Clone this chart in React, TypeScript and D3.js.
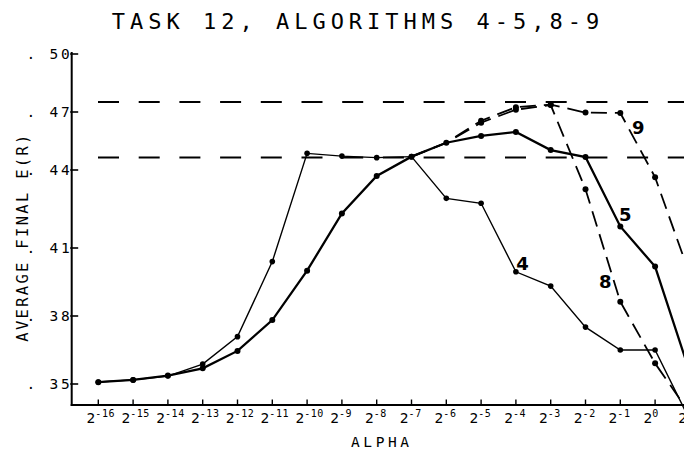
import React from "react";
import * as d3 from "d3";

// ---- data ----
const exponents = [-16, -15, -14, -13, -12, -11, -10, -9, -8, -7, -6, -5, -4, -3, -2, -1, 0, 1];
const alg4 = [0.3509, 0.3518, 0.3535, 0.3588, 0.3709, 0.404, 0.4486, 0.4472, 0.4464, 0.4469, 0.4291, 0.4272, 0.3995, 0.3932, 0.3751, 0.365, 0.365, 0.334];
const alg5 = [0.3508, 0.3518, 0.3537, 0.3569, 0.3646, 0.3782, 0.4, 0.4233, 0.4377, 0.4469, 0.4541, 0.4576, 0.4597, 0.4503, 0.4467, 0.4183, 0.4018, 0.355];
const dashedExponents = [-7, -6, -5, -4, -3, -2, -1, 0, 1];
const alg8 = [0.4469, 0.4541, 0.4645, 0.4712, 0.4736, 0.4326, 0.3863, 0.3591, 0.337];
const alg9 = [0.4469, 0.4541, 0.4655, 0.4725, 0.4738, 0.4697, 0.4695, 0.4372, 0.3981];
const refLines = [0.4752, 0.4465];
const yTicks = [0.35, 0.38, 0.41, 0.44, 0.47, 0.5];
const yTickLabels = [". 35", ". 38", ". 41", ". 44", ". 47", ". 50"];
const title = "TASK 12, ALGORITHMS 4-5,8-9";
const yTitle = "AVERAGE FINAL E(R)";
const xTitle = "ALPHA";

const W = 684;
const H = 452;
const MONO = "'DejaVu Sans Mono', monospace";

export default function App() {
  const x = d3.scaleLinear().domain([-16, 1]).range([98.3, 689.9]);
  // the scanned axis is not evenly spaced; follow its tick positions
  const y = d3.scaleLinear().domain(yTicks).range([384, 316, 248, 170, 112, 54]);

  const axisX = 71.7;
  const axisY = 405;

  const line = d3
    .line<[number, number]>()
    .x((d) => x(d[0]))
    .y((d) => y(d[1]));

  const pts = (xs: number[], vs: number[]) => xs.map((e, i) => [e, vs[i]] as [number, number]);
  const s4 = pts(exponents, alg4);
  const s5 = pts(exponents, alg5);
  const s8 = pts(dashedExponents, alg8);
  const s9 = pts(dashedExponents, alg9);

  const dot = (p: [number, number], k: string, r = 3) => (
    <circle key={k} cx={x(p[0])} cy={y(p[1])} r={r} fill="#000" />
  );

  const labelAt = (xs: number[], vs: number[], e: number) => {
    const i = xs.indexOf(e);
    return [x(e), y(vs[i])];
  };
  const l4 = labelAt(exponents, alg4, -4);
  const l5 = labelAt(exponents, alg5, -1);
  const l8 = labelAt(dashedExponents, alg8, -1);
  const l9 = labelAt(dashedExponents, alg9, -1);

  return (
    <svg
      width={W}
      height={H}
      style={{ position: "absolute", left: 0, top: 0, background: "#fff" }}
      xmlns="http://www.w3.org/2000/svg"
    >
      <rect width={W} height={H} fill="#fff" />
      {/* title */}
      <text x={111.7} y={28.5} fontFamily={MONO} fontSize={22} letterSpacing={5.0} fill="#000">
        {title}
      </text>

      {/* reference dashed lines */}
      {refLines.map((v, i) => (
        <line
          key={"ref" + i}
          x1={98}
          x2={W + 10}
          y1={y(v)}
          y2={y(v)}
          stroke="#000"
          strokeWidth={2}
          strokeDasharray="21 19.7"
        />
      ))}

      {/* axes */}
      <line x1={axisX} x2={axisX} y1={52} y2={axisY + 1} stroke="#000" strokeWidth={2} />
      <line x1={axisX - 1} x2={W} y1={axisY} y2={axisY} stroke="#000" strokeWidth={2} />
      {yTicks.map((v, i) => (
        <g key={"yt" + i}>
          <line x1={axisX - 1.5} x2={axisX + 6.5} y1={y(v)} y2={y(v)} stroke="#000" strokeWidth={1.6} />
          <text x={26.5} y={y(v) + 5.3} fontFamily={MONO} fontSize={14.5} letterSpacing={2.8} fill="#000">
            {yTickLabels[i]}
          </text>
        </g>
      ))}
      {exponents.map((e) => (
        <g key={"xt" + e}>
          <line x1={x(e)} x2={x(e)} y1={axisY - 5.5} y2={axisY} stroke="#000" strokeWidth={1.4} />
          <text x={x(e) - 11.7} y={423.3} fontFamily={MONO} fill="#000">
            <tspan fontSize={14.5}>2</tspan>
            <tspan fontSize={10} dy={-6.8} letterSpacing={0.6}>
              {String(e)}
            </tspan>
          </text>
        </g>
      ))}
      <text x={351} y={447.3} fontFamily={MONO} fontSize={14.5} letterSpacing={3.6} fill="#000">
        {xTitle}
      </text>
      <text
        transform={`translate(28.3, ${237}) rotate(-90)`}
        textAnchor="middle"
        fontFamily={MONO}
        fontSize={15.5}
        letterSpacing={2.3}
        fill="#000"
      >
        {yTitle}
      </text>

      {/* dashed series 8 and 9 */}
      <path d={line(s9) || ""} fill="none" stroke="#000" strokeWidth={1.8} strokeDasharray="16 8" />
      <path d={line(s8) || ""} fill="none" stroke="#000" strokeWidth={1.8} strokeDasharray="16 8" />
      {/* series 4 (thin) */}
      <path d={line(s4) || ""} fill="none" stroke="#000" strokeWidth={1.4} />
      {/* series 5 (heavy) */}
      <path d={line(s5) || ""} fill="none" stroke="#000" strokeWidth={2.3} />

      {s9.slice(2).map((p, i) => dot(p, "d9" + i))}
      {s8.slice(2).map((p, i) => dot(p, "d8" + i))}
      {s4.map((p, i) => dot(p, "d4" + i, 2.8))}
      {s5.map((p, i) => dot(p, "d5" + i))}

      {/* series labels */}
      <g fontFamily="'DejaVu Sans', sans-serif" fontWeight="bold" fontSize={18} fill="#000" textAnchor="middle" dominantBaseline="central">
        <text x={l4[0] + 6.5} y={l4[1] - 8.5}>4</text>
        <text x={l5[0] + 5} y={l5[1] - 11.5}>5</text>
        <text x={l8[0] - 15} y={l8[1] - 20}>8</text>
        <text x={l9[0] + 18} y={l9[1] + 15}>9</text>
      </g>
    </svg>
  );
}
